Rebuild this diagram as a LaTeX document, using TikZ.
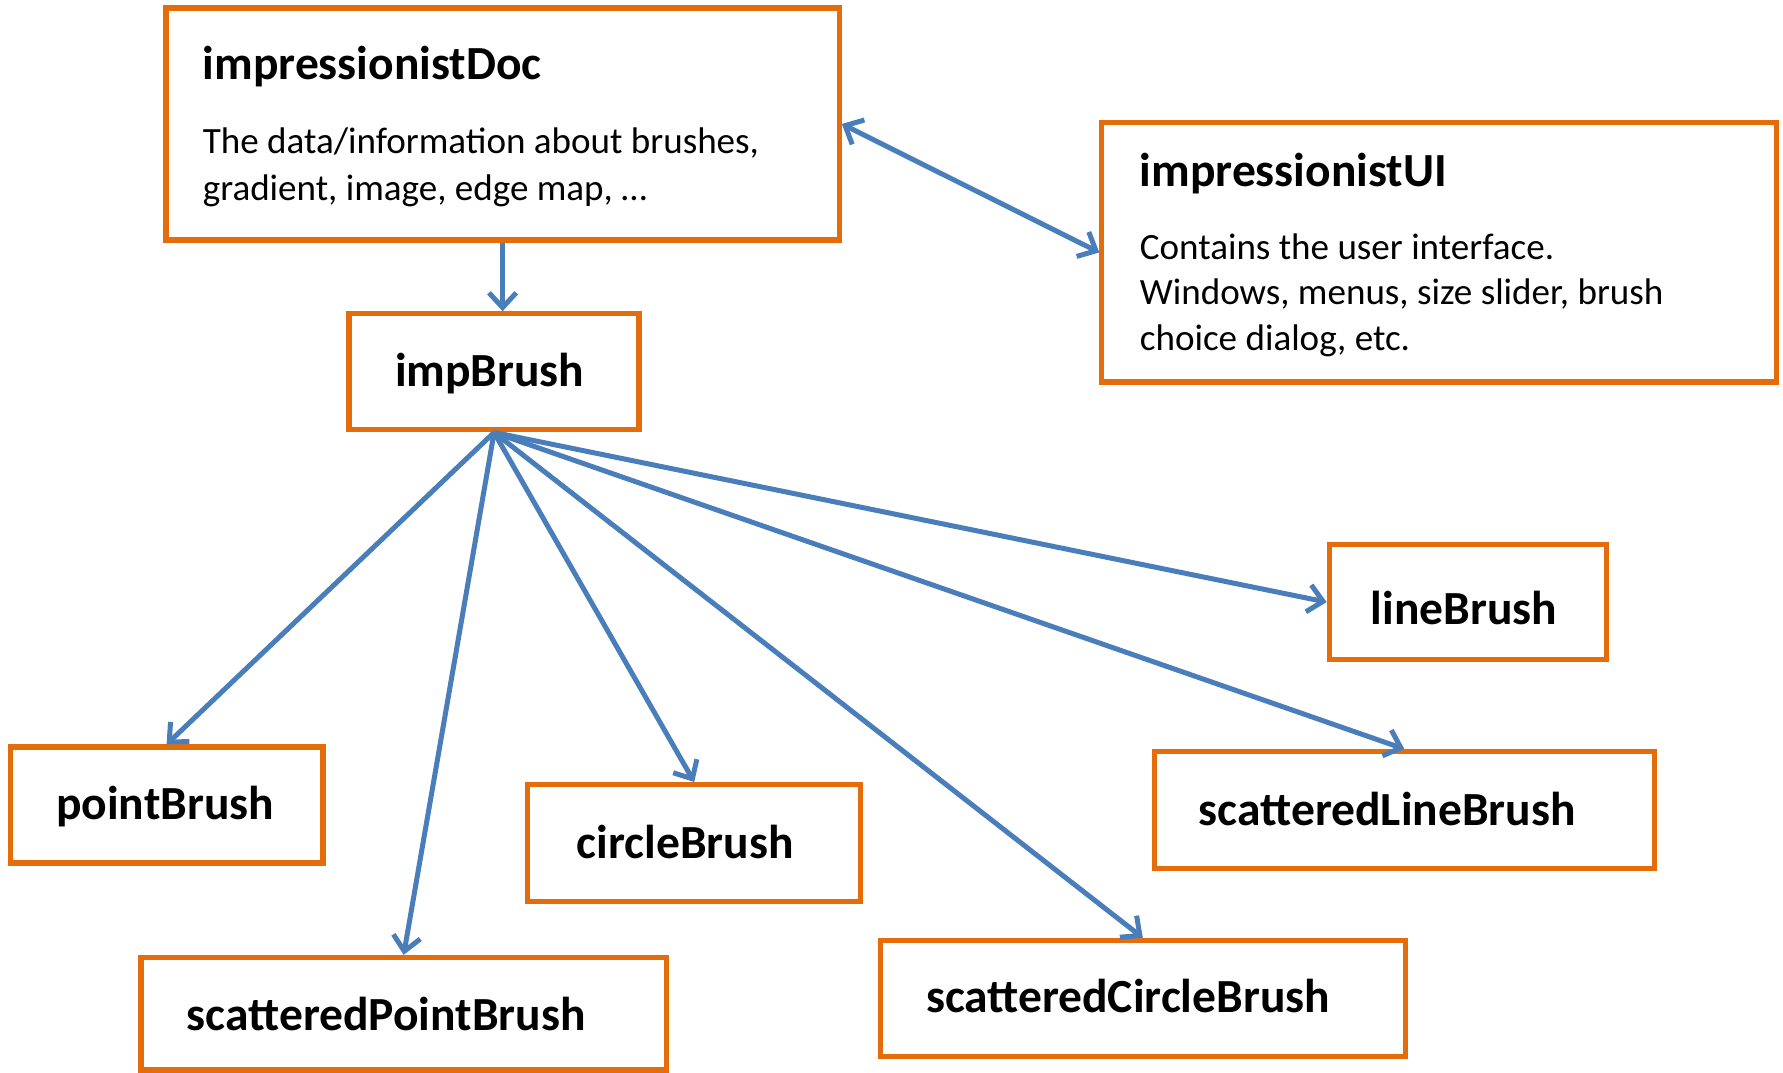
\documentclass[tikz,border=0pt]{standalone}
\usepackage{fontspec}
\setmainfont{Carlito}
\usetikzlibrary{arrows.meta}
\definecolor{boxorange}{RGB}{228,108,10}
\definecolor{arrowblue}{RGB}{74,126,187}
\begin{document}
\begin{tikzpicture}[x=0.5pt,y=-0.5pt,
  box/.style={draw=boxorange, line width=2.3pt, rectangle, inner sep=0pt},
  ttl/.style={font=\fontsize{20.9}{25}\selectfont\bfseries, anchor=base west, inner sep=0pt},
  bodytxt/.style={font=\fontsize{16.3}{20}\selectfont, anchor=base west, inner sep=0pt},
  conn/.style={draw=arrowblue, line width=2.2pt, -{Straight Barb[length=6.5pt,width=12pt]}},
  biconn/.style={draw=arrowblue, line width=2.2pt, {Straight Barb[length=6.5pt,width=12pt]}-{Straight Barb[length=6.5pt,width=12pt]}},
  ]
\useasboundingbox (0,0) rectangle (1568,943);
\fill[white] (0,0) rectangle (1568,943);

% boxes
\node[box, minimum width=296pt, minimum height=102pt] (doc) at (442,109) {};
\node[box, minimum width=296.5pt, minimum height=114pt] (ui) at (1265.5,222) {};
\node[box, minimum width=127.5pt, minimum height=51pt] (imp) at (434.5,327) {};
\node[box, minimum width=137.5pt, minimum height=51pt] (point) at (146.5,708) {};
\node[box, minimum width=146.5pt, minimum height=51.5pt] (circle) at (610.5,741.5) {};
\node[box, minimum width=231pt, minimum height=49.5pt] (spoint) at (355,891.5) {};
\node[box, minimum width=231pt, minimum height=51pt] (scircle) at (1005,878) {};
\node[box, minimum width=220pt, minimum height=51.5pt] (sline) at (1235,712.5) {};
\node[box, minimum width=122pt, minimum height=50.5pt] (line) at (1291,529.5) {};

% texts
\node[ttl] (docT) at (178,70) {impressionistDoc};
\node[bodytxt] (docL1) at (178,135) {The data/information about brushes,};
\node[bodytxt] (docL2) at (178,176) {gradient, image, edge map, …};
\node[ttl] (uiT) at (1002,164) {impressionistUI};
\node[bodytxt] (uiL1) at (1002,228.6) {Contains the user interface.};
\node[bodytxt] (uiL2) at (1002,268) {Windows, menus, size slider, brush};
\node[bodytxt] (uiL3) at (1002,308) {choice dialog, etc.};
\node[ttl] (impT) at (347,340) {impBrush};
\node[ttl] (pointT) at (49,721) {pointBrush};
\node[ttl] (circleT) at (507,755) {circleBrush};
\node[ttl] (spointT) at (164,906.6) {scatteredPointBrush};
\node[ttl] (scircleT) at (814,890) {scatteredCircleBrush};
\node[ttl] (slineT) at (1054,725.6) {scatteredLineBrush};
\node[ttl] (lineT) at (1205,549) {lineBrush};

% connectors
\draw[biconn] (doc.east) -- (ui.west);
\draw[conn] (doc.south) -- (doc.south |- imp.north);
\draw[conn] (imp.south) -- (point.north);
\draw[conn] (imp.south) -- (spoint.north);
\draw[conn] (imp.south) -- (circle.north);
\draw[conn] (imp.south) -- (scircle.north);
\draw[conn] (imp.south) -- (sline.north);
\draw[conn] (imp.south) -- (line.west);
\end{tikzpicture}
\end{document}
